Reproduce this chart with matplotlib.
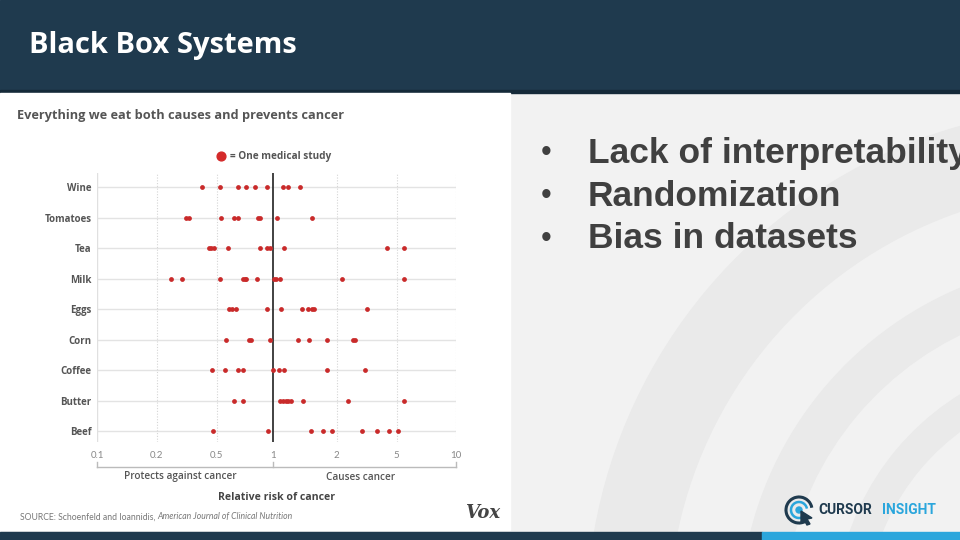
import numpy as np
import matplotlib
matplotlib.use("Agg")
import matplotlib.pyplot as plt
from matplotlib import patches, transforms

# data (relative risk per study)
foods = ["Wine", "Tomatoes", "Tea", "Milk", "Eggs", "Corn", "Coffee", "Butter", "Beef"]
wine = [0.40, 0.52, 0.65, 0.72, 0.80, 0.93, 1.11, 1.17, 1.34]
tomatoes = [0.31, 0.325, 0.53, 0.62, 0.65, 0.83, 0.85, 1.04, 1.53]
tea = [0.445, 0.458, 0.478, 0.577, 0.85, 0.93, 0.96, 1.13, 4.32, 5.44]
milk = [0.248, 0.294, 0.519, 0.687, 0.71, 0.72, 0.82, 1.01, 1.03, 1.08, 2.17, 5.44]
eggs = [0.58, 0.605, 0.63, 0.93, 1.09, 1.37, 1.46, 1.53, 1.56, 3.18]
corn = [0.56, 0.74, 0.757, 0.96, 1.31, 1.47, 1.80, 2.58, 2.65]
coffee = [0.463, 0.553, 0.65, 0.69, 1.0, 1.06, 1.13, 1.79, 3.08]
butter = [0.62, 0.687, 1.08, 1.11, 1.15, 1.17, 1.21, 1.39, 2.37, 5.42]
beef = [0.47, 0.94, 1.51, 1.72, 1.90, 2.93, 3.68, 4.43, 5.06]
studies = [wine, tomatoes, tea, milk, eggs, corn, coffee, butter, beef]

ticks = [0.1, 0.2, 0.5, 1, 2, 5, 10]
tick_labels = ["0.1", "0.2", "0.5", "1", "2", "5", "10"]
bullets = ["Lack of interpretability", "Randomization", "Bias in datasets"]

NAVY = "#1f3a4e"
RED = "#c92a2a"
GREY = "#555555"

# the Vox axis spaces 0.1-0.2-0.5-1-2-5-10 (almost) evenly
LOGT = np.log10(ticks)
KNOTS = np.array([0.0, 59.7, 119.4, 176.0, 239.4, 299.4, 358.7])


def fwd(x):
    x = np.clip(np.asarray(x, dtype=float), 1e-6, None)
    return np.interp(np.log10(x), LOGT, KNOTS)


def inv(u):
    return 10 ** np.interp(u, KNOTS, LOGT)


fig = plt.figure(figsize=(9.6, 5.4), dpi=100)

# slide background, in pixel coordinates (y grows downwards)
bg = fig.add_axes([0, 0, 1, 1], zorder=0)
bg.set_xlim(0, 960)
bg.set_ylim(540, 0)
bg.axis("off")
bg.add_patch(patches.Rectangle((0, 0), 960, 540, color="#f2f2f2"))
for r_out, w in [(513, 81), (360, 42), (265, 30)]:
    bg.add_patch(patches.Wedge((1100, 620), r_out, 160, 280, width=w, color="#eaeaea"))
bg.add_patch(patches.Rectangle((0, 0), 960, 91, color=NAVY))
bg.add_patch(patches.Rectangle((0, 90), 960, 3, color="#152a39"))
bg.add_patch(patches.Rectangle((0, 93), 510, 437, color="white"))
bg.add_patch(patches.Rectangle((0, 532), 762, 8, color=NAVY))
bg.add_patch(patches.Rectangle((762, 532), 198, 8, color="#2ba6dc"))
bg.text(29, 46, "Black Box Systems", color="white", fontsize=21, fontweight="bold",
        family="Open Sans", va="center", ha="left")

for i, b in enumerate(bullets):
    y = 153 + 43 * i
    bg.text(541, y, "\u2022", color="#404040", fontsize=22, family="Liberation Sans",
            va="center", ha="left")
    bg.text(588, y, b, color="#404040", fontsize=25.5, fontweight="bold",
            family="Liberation Sans", va="center", ha="left", clip_on=True)

# cursor insight logo
bg.add_patch(patches.Arc((799, 510), 26, 26, theta1=60, theta2=350, color=NAVY, lw=2.2))
bg.add_patch(patches.Arc((799, 510), 16, 16, theta1=60, theta2=350, color="#2ba6dc", lw=1.8))
bg.add_patch(patches.Circle((799, 510), 3, color="#2ba6dc"))
bg.add_patch(patches.Polygon([(801, 511), (812, 518), (807, 519), (810, 524), (807, 525),
                              (804, 520), (801, 523)], color=NAVY))
bg.text(818, 510, "CURSOR", color=NAVY, fontsize=10, fontweight="bold",
        family="Roboto", va="center", ha="left")
bg.text(882, 510, "INSIGHT", color="#2ba6dc", fontsize=10, fontweight="bold",
        family="Roboto", va="center", ha="left")

# chart texts
bg.text(17, 116, "Everything we eat both causes and prevents cancer", color=GREY,
        fontsize=9.2, fontweight="bold", family="Open Sans", va="center", ha="left")
bg.scatter([221], [156], s=40, color="#d42a2a", zorder=3)
bg.text(230, 156, "= One medical study", color=GREY, fontsize=7.2, fontweight="bold",
        family="Open Sans", va="center", ha="left")
bg.text(180, 477, "Protects against cancer", color=GREY, fontsize=7.2, fontweight="semibold",
        family="Open Sans", va="center", ha="center")
bg.text(361, 477, "Causes cancer", color=GREY, fontsize=7.2, fontweight="semibold",
        family="Open Sans", va="center", ha="center")
bg.text(277, 497, "Relative risk of cancer", color="#444444", fontsize=7.6, fontweight="bold",
        family="Open Sans", va="center", ha="center")
src = bg.text(20, 517, "SOURCE: Schoenfeld and Ioannidis, ", color="#777777", fontsize=6.2,
              family="Lato", va="center", ha="left")
bg.annotate("American Journal of Clinical Nutrition", xy=(1, 0.5), xycoords=src,
            va="center", ha="left", color="#777777", fontsize=6.2, style="italic",
            family="Lato")
bg.text(483, 513, "Vox", color="#444444", fontsize=13, fontweight="bold", style="italic",
        family="DejaVu Serif", va="center", ha="center")

# the chart itself
x0, x1, ytop, ybot = 97.3, 456.0, 173.0, 442.0
ax = fig.add_axes([x0 / 960, 1 - ybot / 540, (x1 - x0) / 960, (ybot - ytop) / 540], zorder=2)
ax.patch.set_alpha(0)
ax.set_xscale("function", functions=(fwd, inv))
ax.set_xlim(0.1, 10)
n = len(foods)
rows = np.arange(n)[::-1]
ax.set_ylim(-0.36, n - 1 + 0.46)

for r, vals in zip(rows, studies):
    ax.axhline(r, color="#e3e3e3", lw=1, zorder=1)
    ax.scatter(vals, [r] * len(vals), s=12, color=RED, zorder=3, linewidths=0)

for t in ticks:
    if t == 1:
        ax.axvline(t, color="#333333", lw=1.3, zorder=2)
    elif t == 0.1:
        ax.axvline(t, color="#e0e0e0", lw=1, zorder=1)
    else:
        ax.axvline(t, color="#d5d5d5", lw=0.8, ls=(0, (1, 1.5)), zorder=1)

ax.set_xticks(ticks)
ax.set_xticklabels(tick_labels, fontsize=7, color="#888888", family="Lato")
ax.xaxis.set_minor_locator(matplotlib.ticker.NullLocator())
ax.set_yticks(rows)
ax.set_yticklabels(foods, fontsize=7, fontweight="bold", color=GREY, family="Open Sans")
ax.tick_params(length=0)
ax.tick_params(axis="x", pad=6.5)
ax.tick_params(axis="y", pad=4)
for s in ax.spines.values():
    s.set_visible(False)

# bracket under the axis
tr = transforms.blended_transform_factory(ax.transData, ax.transAxes)
yb = -(467 - ybot) / (ybot - ytop)
yt = -(462 - ybot) / (ybot - ytop)
ax.plot([0.1, 10], [yb, yb], color="#bbbbbb", lw=1, transform=tr, clip_on=False)
for t in [0.1, 1, 10]:
    ax.plot([t, t], [yb, yt], color="#bbbbbb", lw=1, transform=tr, clip_on=False)

fig.savefig("out.png", dpi=100)
